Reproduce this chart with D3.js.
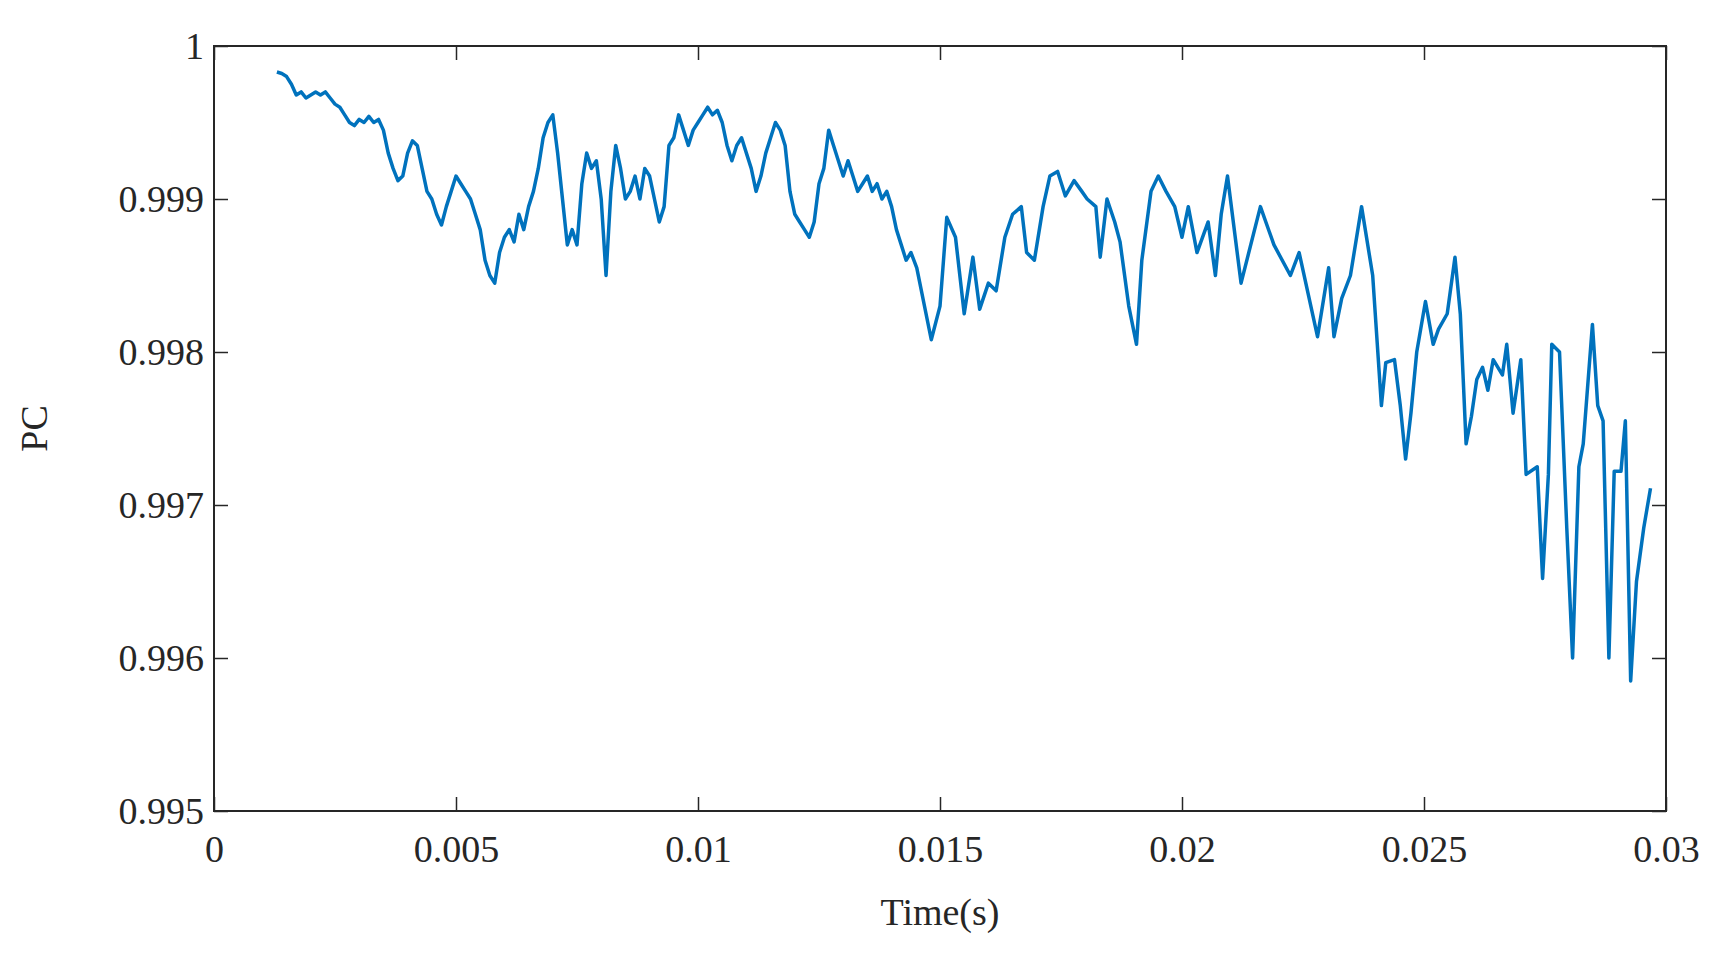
<!DOCTYPE html>
<html><head><meta charset="utf-8">
<script src="https://cdn.jsdelivr.net/npm/d3@7"></script>
<style>body{margin:0;background:#fff}svg text{font-family:"Liberation Serif","Times New Roman",serif;fill:#262626}</style>
</head><body><svg id="c" width="1722" height="960"></svg>
<script>
const time=[0.0013,0.0014,0.0015,0.0016,0.0017,0.0018,0.0019,0.0020,0.0021,0.0022,0.0023,0.0024,0.0025,0.0026,0.0027,0.0028,0.0029,0.0030,0.0031,0.0032,0.0033,0.0034,0.0035,0.0036,0.0037,0.0038,0.0039,0.0040,0.0041,0.0042,0.0043,0.0044,0.0045,0.0046,0.0047,0.0048,0.0049,0.0050,0.0051,0.0052,0.0053,0.0054,0.0055,0.0056,0.0057,0.0058,0.0059,0.0060,0.0061,0.0062,0.0063,0.0064,0.0065,0.0066,0.0067,0.0068,0.0069,0.0070,0.0071,0.0072,0.0073,0.0074,0.0075,0.0076,0.0077,0.0078,0.0079,0.0080,0.0081,0.0082,0.0083,0.0084,0.0085,0.0086,0.0087,0.0088,0.0089,0.0090,0.0091,0.0092,0.0093,0.0094,0.0095,0.0096,0.0097,0.0098,0.0099,0.0100,0.0101,0.0102,0.0103,0.0104,0.0105,0.0106,0.0107,0.0108,0.0109,0.0110,0.0111,0.0112,0.0113,0.0114,0.0115,0.0116,0.0117,0.0118,0.0119,0.0120,0.0121,0.0122,0.0123,0.0124,0.0125,0.0126,0.0127,0.0128,0.0129,0.0130,0.0131,0.0132,0.0133,0.0134,0.0135,0.0136,0.0137,0.0138,0.0139,0.0140,0.0141,0.0142,0.0143,0.0144,
0.01452,0.01482,0.01500,0.01514,0.01532,0.01550,0.01568,0.01582,0.01600,0.01616,0.01634,0.01650,0.01668,0.01679,0.01695,0.01713,0.01727,0.01743,0.01759,0.01777,0.01793,0.01804,0.01822,0.01831,0.01845,0.01861,0.01872,0.01890,0.01906,0.01917,0.01936,0.01951,0.01967,0.01985,0.02000,0.02013,0.02031,0.02054,0.02069,0.02081,0.02094,0.02122,0.02162,0.02190,0.02224,0.02242,0.02280,0.02303,0.02314,0.02330,0.02348,0.02371,0.02394,0.02412,0.02421,0.02439,0.02451,0.02462,0.02473,0.02485,0.02503,0.02519,0.02530,0.02548,0.02564,0.02575,0.02587,0.02598,0.02609,0.02621,0.02632,0.02643,0.02662,0.02671,0.02684,0.02700,0.02711,0.02734,0.02745,0.02757,0.02764,0.02780,0.02795,0.02807,0.02820,0.02829,0.02848,0.02859,0.02870,0.02882,0.02893,0.02907,0.02916,0.02927,0.02939,0.02954,0.02968];
const pc=[0.99983,0.99982,0.99980,0.99975,0.99968,0.99970,0.99966,0.99968,0.99970,0.99968,0.99970,0.99966,0.99962,0.99960,0.99955,0.99950,0.99948,0.99952,0.99950,0.99954,0.99950,0.99952,0.99945,0.99930,0.99920,0.99912,0.99915,0.99930,0.99938,0.99935,0.99920,0.99905,0.99900,0.99890,0.99883,0.99895,0.99905,0.99915,0.99910,0.99905,0.99900,0.99890,0.99880,0.99860,0.99850,0.99845,0.99865,0.99875,0.99880,0.99872,0.99890,0.99880,0.99895,0.99905,0.99920,0.99940,0.99950,0.99955,0.99930,0.99900,0.99870,0.99880,0.99870,0.99910,0.99930,0.99920,0.99925,0.99900,0.99850,0.99905,0.99935,0.99920,0.99900,0.99905,0.99915,0.99900,0.99920,0.99915,0.99900,0.99885,0.99895,0.99935,0.99940,0.99955,0.99945,0.99935,0.99945,0.99950,0.99955,0.99960,0.99955,0.99958,0.99950,0.99935,0.99925,0.99935,0.99940,0.99930,0.99920,0.99905,0.99915,0.99930,0.99940,0.99950,0.99945,0.99935,0.99905,0.99890,0.99885,0.99880,0.99875,0.99885,0.99910,0.99920,0.99945,0.99935,0.99925,0.99915,0.99925,0.99915,0.99905,0.99910,0.99915,0.99905,0.99910,0.99900,0.99905,0.99895,0.99880,0.99870,0.99860,0.99865,
0.99855,0.99808,0.99830,0.99888,0.99875,0.99825,0.99862,0.99828,0.99845,0.99840,0.99875,0.99890,0.99895,0.99865,0.99860,0.99895,0.99915,0.99918,0.99902,0.99912,0.99905,0.99900,0.99895,0.99862,0.99900,0.99885,0.99872,0.99830,0.99805,0.99860,0.99905,0.99915,0.99905,0.99895,0.99875,0.99895,0.99865,0.99885,0.99850,0.99890,0.99915,0.99845,0.99895,0.99870,0.99850,0.99865,0.99810,0.99855,0.99810,0.99835,0.99850,0.99895,0.99850,0.99765,0.99793,0.99795,0.99765,0.99730,0.99760,0.99800,0.99833,0.99805,0.99815,0.99825,0.99862,0.99825,0.99740,0.99758,0.99782,0.99790,0.99775,0.99795,0.99785,0.99805,0.99760,0.99795,0.99720,0.99725,0.99652,0.99720,0.99805,0.99800,0.99685,0.99600,0.99725,0.99740,0.99818,0.99765,0.99755,0.99600,0.99722,0.99722,0.99755,0.99585,0.99650,0.99685,0.99711];
const xTicks=[0,0.005,0.01,0.015,0.02,0.025,0.03];
const xTickLabels=["0","0.005","0.01","0.015","0.02","0.025","0.03"];
const yTicks=[0.995,0.996,0.997,0.998,0.999,1];
const yTickLabels=["0.995","0.996","0.997","0.998","0.999","1"];

const L=214,R=1666,T=46,B=811;
const svg=d3.select("#c");
const x=d3.scaleLinear().domain([0,0.03]).range([L,R]);
const y=d3.scaleLinear().domain([0.995,1]).range([B,T]);
const fs=38;
svg.append("g").attr("transform",`translate(0,${B})`)
 .call(d3.axisBottom(x).tickValues(xTicks).tickFormat((d,i)=>xTickLabels[i]).tickSizeInner(-14).tickSizeOuter(0).tickPadding(24));
svg.append("g").attr("transform",`translate(${L},0)`)
 .call(d3.axisLeft(y).tickValues(yTicks).tickFormat((d,i)=>yTickLabels[i]).tickSizeInner(-14).tickSizeOuter(0).tickPadding(10));
svg.append("g").attr("transform",`translate(0,${T})`).call(d3.axisTop(x).tickValues(xTicks).tickFormat("").tickSizeInner(-14).tickSizeOuter(0));
svg.append("g").attr("transform",`translate(${R},0)`).call(d3.axisRight(y).tickValues(yTicks).tickFormat("").tickSizeInner(-14).tickSizeOuter(0));
svg.selectAll(".domain").remove();
svg.selectAll(".tick line").attr("stroke","#262626").attr("stroke-width",1.5);
svg.selectAll(".tick text").style("font-size",fs+"px").attr("fill","#262626");
svg.append("rect").attr("x",L).attr("y",T).attr("width",R-L).attr("height",B-T).attr("fill","none").attr("stroke","#262626").attr("stroke-width",2);
const pts=time.map((t,i)=>[t,pc[i]]);
svg.append("path").datum(pts).attr("fill","none").attr("stroke","#0072BD").attr("stroke-width",3.5).attr("stroke-linejoin","round")
 .attr("d",d3.line().x(d=>x(d[0])).y(d=>y(d[1])));
svg.append("text").attr("x",(L+R)/2).attr("y",925).attr("text-anchor","middle").style("font-size",fs+"px").text("Time(s)");
svg.append("text").attr("transform",`translate(47,${(T+B)/2}) rotate(-90)`).attr("text-anchor","middle").style("font-size",fs+"px").text("PC");
</script></body></html>
